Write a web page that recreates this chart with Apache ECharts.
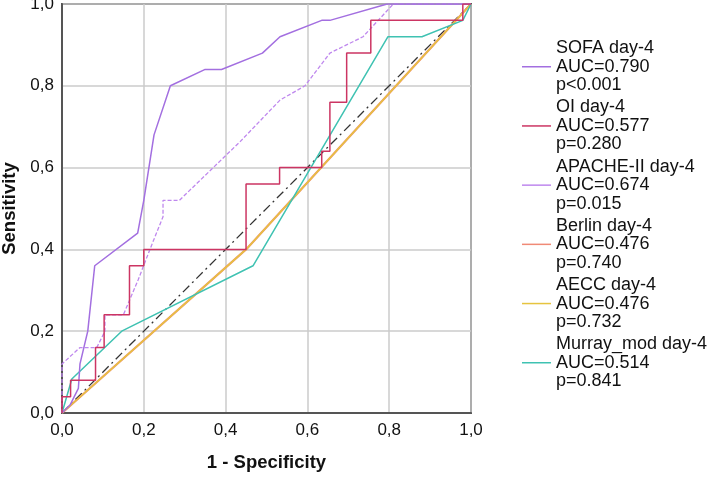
<!DOCTYPE html>
<html>
<head>
<meta charset="utf-8">
<script src="https://cdn.jsdelivr.net/npm/echarts@6/dist/echarts.min.js"></script>
<style>
  html, body { margin: 0; padding: 0; background: #fff; }
  #roc { width: 711px; height: 480px; }
</style>
</head>
<body>
<div id="roc"></div>
<script>
// ROC curves, [1 - specificity, sensitivity]
const sofa = [[0, 0], [0.02, 0.02], [0.04, 0.06], [0.044, 0.12], [0.063, 0.2], [0.08, 0.36], [0.185, 0.44],
  [0.2, 0.52], [0.225, 0.68], [0.265, 0.8], [0.35, 0.84], [0.39, 0.84], [0.49, 0.88], [0.533, 0.92],
  [0.635, 0.96], [0.655, 0.96], [0.795, 1], [1, 1]]
const oi = [[0, 0], [0, 0.04], [0.021, 0.04], [0.021, 0.08], [0.082, 0.08], [0.082, 0.16], [0.103, 0.16],
  [0.103, 0.24], [0.165, 0.24], [0.165, 0.36], [0.2, 0.36], [0.2, 0.4], [0.45, 0.4], [0.45, 0.56],
  [0.532, 0.56], [0.532, 0.6], [0.635, 0.6], [0.635, 0.64], [0.655, 0.64], [0.655, 0.76], [0.696, 0.76],
  [0.696, 0.88], [0.755, 0.88], [0.755, 0.96], [0.98, 0.96], [0.98, 1], [1, 1]]
const apache = [[0, 0], [0, 0.12], [0.044, 0.16], [0.085, 0.16], [0.105, 0.2], [0.105, 0.24], [0.15, 0.24],
  [0.186, 0.325], [0.215, 0.4], [0.247, 0.48], [0.247, 0.52], [0.287, 0.52], [0.435, 0.663],
  [0.533, 0.765], [0.594, 0.8], [0.655, 0.88], [0.736, 0.92], [0.81, 1], [1, 1]]
const berlin = [[0, 0], [0.45, 0.4], [1, 1]]
const aecc = [[0, 0], [0.45, 0.4], [1, 1]]
const murray = [[0, 0], [0.024, 0.083], [0.146, 0.2], [0.467, 0.36], [0.797, 0.92], [0.88, 0.92],
  [0.98, 0.96], [1, 1]]
const reference = [[0, 0], [1, 1]]

const names = ['SOFA day-4', 'OI day-4', 'APACHE-II day-4', 'Berlin day-4', 'AECC day-4', 'Murray_mod day-4']
const aucs = ['0.790', '0.577', '0.674', '0.476', '0.476', '0.514']
const pvals = ['p<0.001', 'p=0.280', 'p=0.015', 'p=0.740', 'p=0.732', 'p=0.841']
const ticks = [0, 0.2, 0.4, 0.6, 0.8, 1.0]

const colors = ['#a36fe0', '#cc3563', '#bf88ee', '#f08a76', '#e6c43f', '#3fc2b2']
const font = 'Liberation Sans, Arial, sans-serif'

const chart = echarts.init(document.getElementById('roc'))

function fmt(v) {
  return v.toFixed(1).replace('.', ',')
}

function curve(name, data, color, dashed, w) {
  return {
    name: name,
    type: 'line',
    data: data,
    showSymbol: false,
    symbol: 'none',
    lineStyle: { color: color, width: w || 1.5, type: dashed ? [4, 2] : 'solid' },
    itemStyle: { color: color }
  }
}

const option = {
  backgroundColor: '#fff',
  animation: false,
  grid: {
    left: 62, right: 240, top: 4, bottom: 67,
    outerBoundsMode: 'none',
    containLabel: false,
    show: true, borderColor: '#555', borderWidth: 2
  },
  legend: {
    data: names,
    orient: 'vertical',
    left: 517,
    top: 34,
    icon: 'rect',
    itemWidth: 29,
    itemHeight: 1.5,
    itemGap: 3.7,
    selectedMode: false,
    textStyle: {
      fontFamily: font,
      fontSize: 18,
      lineHeight: 18.5,
      color: '#111'
    },
    formatter: function (name) {
      const i = names.indexOf(name)
      return name + '\nAUC=' + aucs[i] + '\n' + pvals[i]
    }
  },
  xAxis: {
    type: 'value',
    min: 0, max: 1, interval: 0.2,
    name: '1 - Specificity',
    nameLocation: 'middle',
    nameGap: 40,
    nameTextStyle: { fontFamily: font, fontSize: 18.5, fontWeight: 'bold', color: '#111' },
    axisLine: { show: true, lineStyle: { color: '#555', width: 2 } },
    axisTick: { show: false },
    axisLabel: {
      margin: 9, fontFamily: font, fontSize: 17, color: '#111',
      customValues: ticks, formatter: fmt
    },
    splitLine: { show: true, lineStyle: { color: '#cbcbcb', width: 1.5 } }
  },
  yAxis: {
    type: 'value',
    min: 0, max: 1, interval: 0.2,
    name: 'Sensitivity',
    nameLocation: 'middle',
    nameGap: 38,
    nameTextStyle: { fontFamily: font, fontSize: 18.5, fontWeight: 'bold', color: '#111' },
    axisLine: { show: true, lineStyle: { color: '#555', width: 2 } },
    axisTick: { show: false },
    axisLabel: {
      margin: 8, fontFamily: font, fontSize: 17, color: '#111',
      customValues: ticks, formatter: fmt
    },
    splitLine: { show: true, lineStyle: { color: '#cbcbcb', width: 1.5 } }
  },
  series: [
    {
      name: 'reference',
      type: 'line',
      data: reference,
      showSymbol: false,
      symbol: 'none',
      lineStyle: { color: '#333', width: 1.3, type: [9, 4, 2, 4] }
    },
    curve(names[3], berlin, colors[3], false, 2.2),
    curve(names[4], aecc, colors[4], false, 1.5),
    curve(names[5], murray, colors[5]),
    curve(names[2], apache, colors[2], true, 1.3),
    curve(names[0], sofa, colors[0]),
    curve(names[1], oi, colors[1])
  ]
}

option && chart.setOption(option)
</script>
</body>
</html>
